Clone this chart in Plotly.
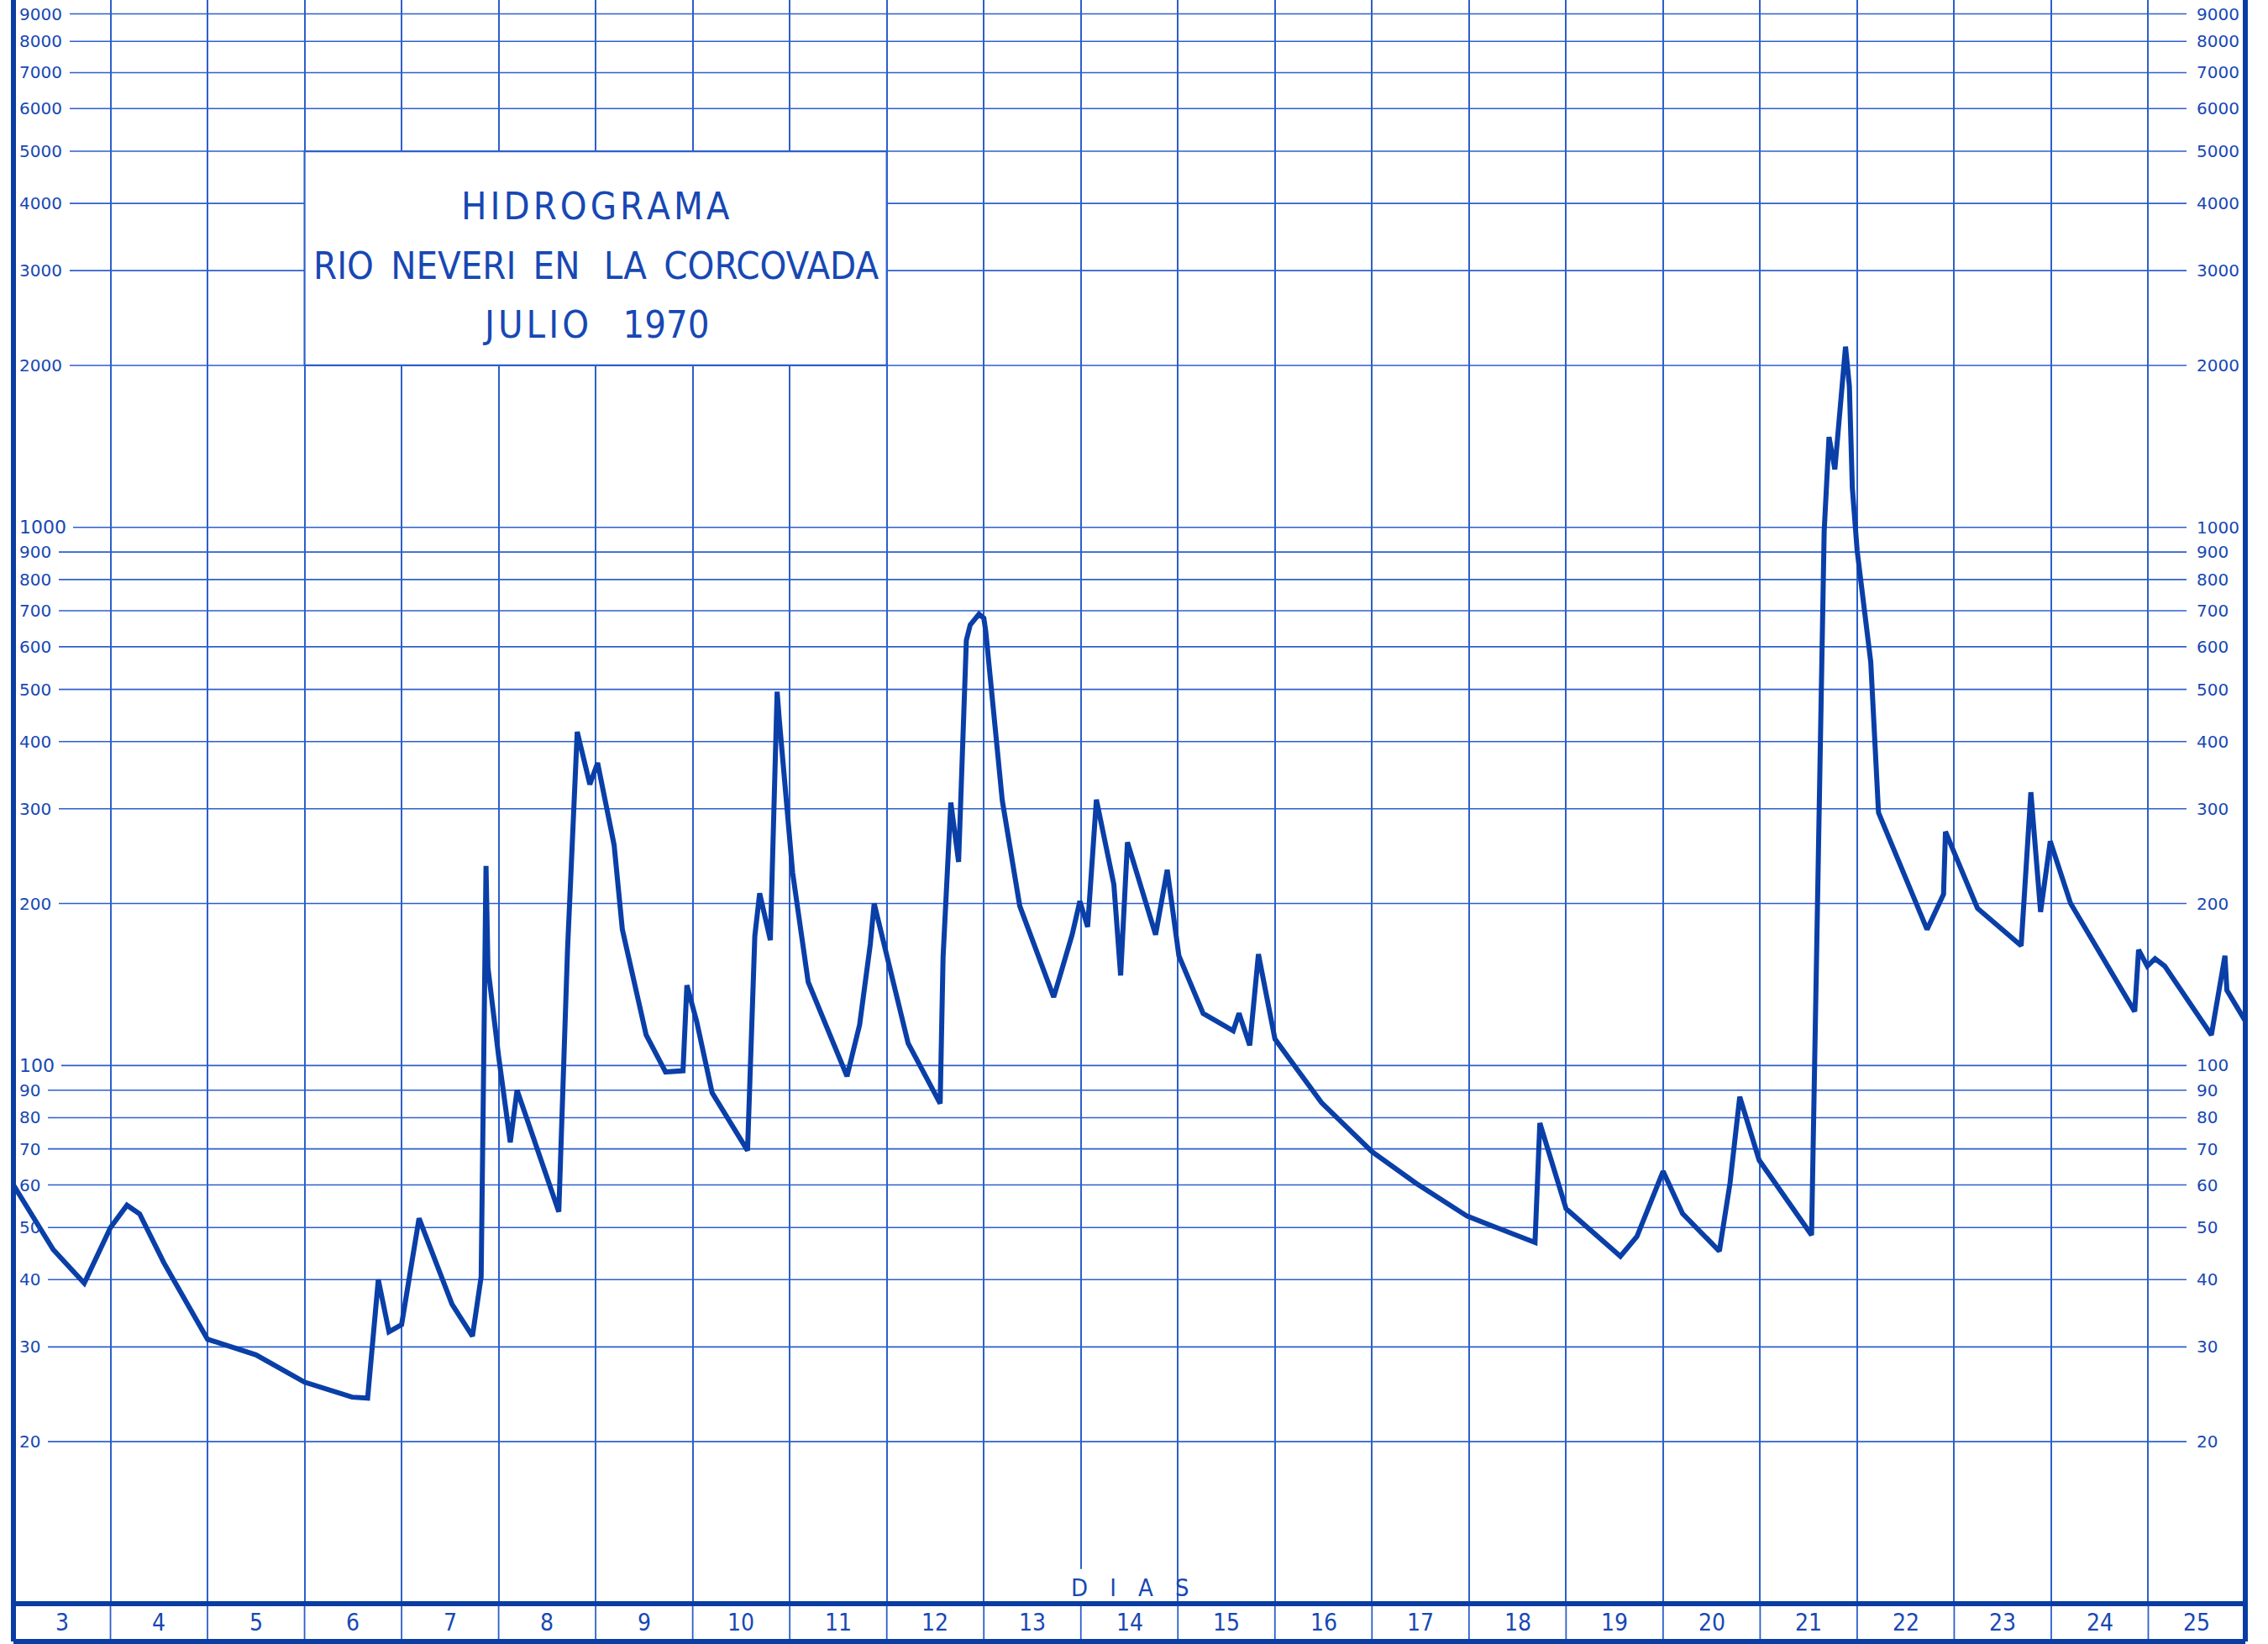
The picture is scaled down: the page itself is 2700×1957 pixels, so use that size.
import numpy as np
import plotly.graph_objects as go

days = [3.00, 3.41, 3.73, 4.00, 4.17, 4.30, 4.55, 5.00, 5.50, 6.00, 6.49, 6.65, 6.76, 6.87,
        7.00, 7.18, 7.52, 7.73, 7.82, 7.87, 7.89, 8.00, 8.12, 8.19, 8.62, 8.71, 8.81, 8.94,
        9.02, 9.19, 9.275, 9.52, 9.72, 9.90, 9.94, 10.04, 10.20, 10.565, 10.64, 10.69, 10.80,
        10.87, 10.89, 11.03, 11.19, 11.59, 11.72, 11.83, 11.87, 12.22, 12.55, 12.58, 12.66,
        12.74, 12.82, 12.86, 12.95, 13.00, 13.02, 13.19, 13.37, 13.72, 13.91, 13.99, 14.07,
        14.16, 14.34, 14.41, 14.48, 14.77, 14.89, 15.01, 15.26, 15.57, 15.63, 15.74, 15.83,
        16.00, 16.48, 17.00, 17.45, 17.98, 18.68, 18.73, 19.00, 19.56, 19.73, 20.00, 20.20,
        20.58, 20.69, 20.79, 20.99, 21.53, 21.66, 21.71, 21.77, 21.88, 21.92, 21.95, 22.00,
        22.14, 22.22, 22.72, 22.89, 22.91, 23.24, 23.69, 23.79, 23.89, 23.99, 24.20, 24.86,
        24.90, 24.99, 25.07, 25.17, 25.65, 25.79, 25.81, 26.00]
flow = [60, 45.5, 39.4, 50, 55, 53, 43, 31, 29, 25.8, 24.2, 24.1, 40, 32,
        33, 52, 36, 31.4, 40.5, 235, 152, 104, 72, 90, 53.5, 164, 417, 333,
        365, 257, 179, 114, 97.3, 97.8, 141, 121, 89, 69.5, 174, 209, 171,
        495, 444, 228, 143, 95.5, 119, 168, 200, 110, 85, 159, 308,
        239, 617, 659, 690, 678, 641, 311, 198, 134, 175, 202, 181,
        312, 217, 147, 260, 175, 231, 160, 125, 116, 125, 109, 161,
        112, 85.3, 69.2, 60.5, 52.5, 46.9, 78.2, 54.2, 44.2, 48.1, 63.6, 53.1,
        45.2, 60.5, 87.5, 66.7, 48.4, 984, 1472, 1282, 2167, 1827, 1185, 905,
        562, 295, 179, 208, 272, 196, 167, 322, 193, 261, 200, 126,
        164, 153, 158, 153, 114, 160, 138, 121]

day_numbers = list(range(3, 26))
grid_values = [20, 30, 40, 50, 60, 70, 80, 90,
               100, 200, 300, 400, 500, 600, 700, 800, 900,
               1000, 2000, 3000, 4000, 5000, 6000, 7000, 8000, 9000]
grid_labels = [str(v) for v in grid_values]
big_label_values = [100, 1000]

title_1 = "HIDROGRAMA"
title_2 = "RIO NEVERI EN LA CORCOVADA"
title_3 = "JULIO 1970"
axis_title = "DIAS"

# ---------------- style ----------------
W, H = 2700, 1957
ML, MR, MT, MB = 16, 27, 0, 48
PW, PH = W - ML - MR, H - MT - MB
DECADE_PX = 640.6
Y_TOP = 1 + PH / DECADE_PX
ROW = 45 / PH  # height of the day-label strip, in paper units

DATA_C = "#0a3fa8"
GRID_C = "#2d5fca"
TEXT_C = "#1748b4"
FRAME_C = "#0a3da4"

NUM_FONT = "DejaVu Sans, Verdana, sans-serif"
LETTER_FONT = "Liberation Sans Narrow, DejaVu Sans Condensed, Roboto, sans-serif"

HAIR = "\u200a"
THIN = "\u2009"
EN = "\u2002"
EM = "\u2003"


def spaced(word, sep):
    return sep.join(list(word))


fig = go.Figure()
fig.add_trace(go.Scatter(x=days, y=flow, mode="lines",
                         line=dict(color=DATA_C, width=6), hoverinfo="x+y"))

shapes = []
annotations = []

# horizontal grid lines (start after the left label, stop before the right label)
for v, lab in zip(grid_values, grid_labels):
    big = v in big_label_values
    wlab = len(lab) * (14 if big else 13)
    x0 = (6 + wlab + 9) / PW
    x1 = (2603 - ML) / PW
    shapes.append(dict(type="line", xref="paper", yref="y", x0=x0, x1=x1, y0=v, y1=v,
                       line=dict(color=GRID_C, width=1.6), layer="between"))
    annotations.append(dict(xref="paper", yref="y", x=5 / PW, y=np.log10(v), text=lab,
                            xanchor="left", yanchor="middle", showarrow=False,
                            font=dict(family=NUM_FONT, size=22 if big else 20, color=TEXT_C)))
    annotations.append(dict(xref="paper", yref="y", x=(2613 - ML) / PW, y=np.log10(v), text=lab,
                            xanchor="left", yanchor="middle", showarrow=False,
                            font=dict(family=NUM_FONT, size=20, color=TEXT_C)))

# title box
shapes.append(dict(type="rect", xref="x", yref="y", x0=6, x1=12, y0=2000, y1=5000,
                   fillcolor="white", line=dict(color=GRID_C, width=2.2), layer="between"))
# white patch behind "DIAS"
shapes.append(dict(type="rect", xref="x", yref="y", x0=13.88, x1=14.93, y0=10, y1=11.6,
                   fillcolor="white", line=dict(width=0), layer="between"))

# day-label strip separators
for d in day_numbers[1:]:
    shapes.append(dict(type="line", xref="x", yref="paper", x0=d, x1=d, y0=-ROW, y1=0,
                       line=dict(color=GRID_C, width=1.8), layer="above"))
# heavy frame
for (x0, x1, y0, y1) in [(0, 0, -ROW, 1), (1, 1, -ROW, 1), (0, 1, 0, 0), (0, 1, -ROW, -ROW)]:
    shapes.append(dict(type="line", xref="paper", yref="paper", x0=x0, x1=x1, y0=y0, y1=y1,
                       line=dict(color=FRAME_C, width=6), layer="above"))

# day labels
for d in day_numbers:
    annotations.append(dict(xref="x", yref="paper", x=d + 0.5, y=-ROW / 2, text=str(d),
                            xanchor="center", yanchor="middle", showarrow=False,
                            font=dict(family=LETTER_FONT, size=28, color=TEXT_C)))

# axis title
annotations.append(dict(xref="x", yref="y", x=14.5, y=1.03, text=spaced(axis_title, EM),
                        xanchor="center", yanchor="middle", showarrow=False,
                        font=dict(family=LETTER_FONT, size=29, color=TEXT_C)))

# title lines (log-axis annotation positions are in log10 units)
t1 = spaced(title_1, HAIR)
w2 = title_2.split(" ")
t2 = EN.join(w2[:3]) + EN + THIN + EN.join(w2[3:])
w3 = title_3.split(" ")
t3 = spaced(w3[0], HAIR) + EN + EN + w3[1]
for txt, ylog in [(t1, 3.597), (t2, 3.486), (t3, 3.376)]:
    annotations.append(dict(xref="x", yref="y", x=9, y=ylog, text=txt,
                            xanchor="center", yanchor="middle", showarrow=False,
                            font=dict(family=LETTER_FONT, size=45, color=TEXT_C)))

fig.update_layout(
    width=W, height=H,
    margin=dict(l=ML, r=MR, t=MT, b=MB, pad=0),
    paper_bgcolor="white", plot_bgcolor="white",
    showlegend=False,
    xaxis=dict(range=[3, 26], tickvals=day_numbers[1:], showgrid=True,
               gridcolor=GRID_C, gridwidth=1.6, showticklabels=False, ticks="",
               zeroline=False, showline=False),
    yaxis=dict(type="log", range=[1, Y_TOP], showgrid=False, showticklabels=False,
               ticks="", zeroline=False, showline=False),
    shapes=shapes,
    annotations=annotations,
)

fig.write_html("out.html", config={"displayModeBar": False},
               post_script="document.body.style.margin='0';")
